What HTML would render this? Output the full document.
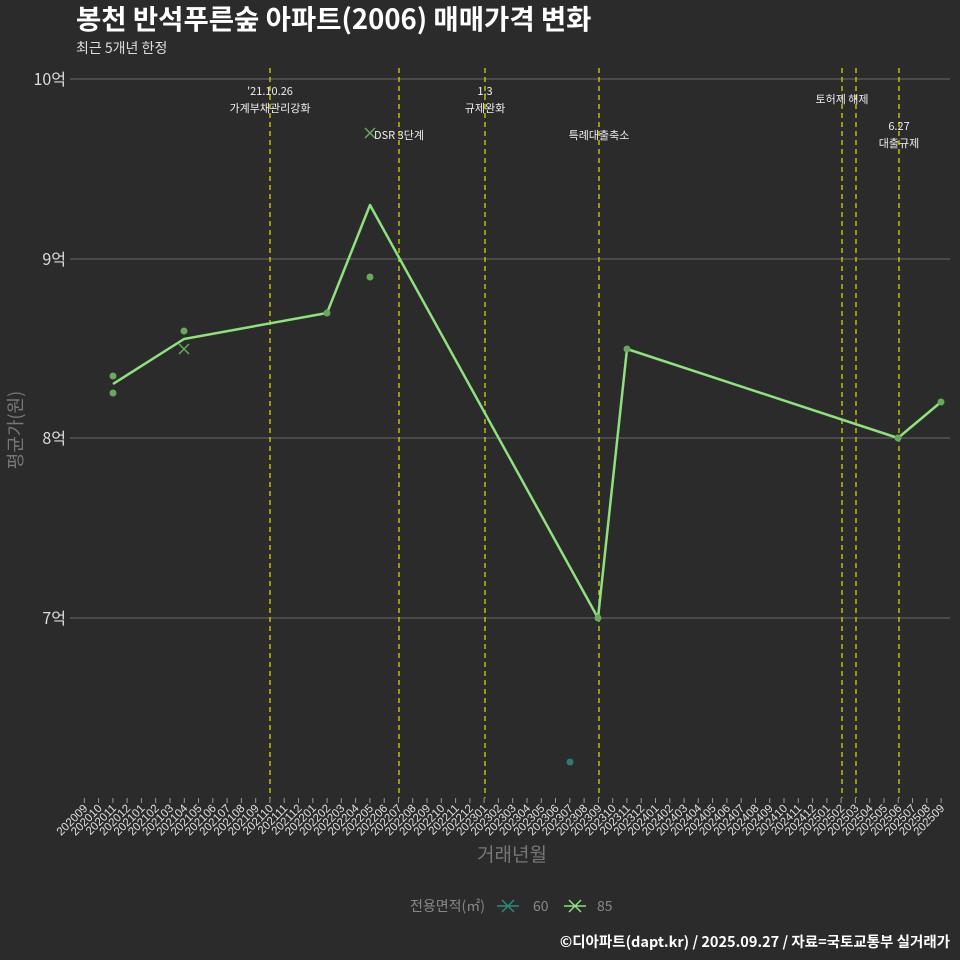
<!DOCTYPE html>
<html><head><meta charset="utf-8"><style>
html,body{margin:0;padding:0;background:#2b2b2b;}
svg{display:block;font-family:"Liberation Sans","Noto Sans CJK KR",sans-serif;}
</style></head><body>
<svg width="960" height="960" viewBox="0 0 960 960" xmlns="http://www.w3.org/2000/svg">
<rect width="960" height="960" fill="#2b2b2b"/>
<text x="76" y="29" font-size="27.5" font-weight="bold" fill="#ffffff" font-family="'Noto Sans CJK KR',sans-serif">봉천 반석푸른숲 아파트(2006) 매매가격 변화</text>
<text x="76" y="53" font-size="14" fill="#dddddd" font-family="'Noto Sans CJK KR',sans-serif">최근 5개년 한정</text>
<g stroke="#6a6a6a" stroke-width="1">
<line x1="70" y1="79" x2="950" y2="79"/><line x1="70" y1="259" x2="950" y2="259"/>
<line x1="70" y1="438" x2="950" y2="438"/><line x1="70" y1="618" x2="950" y2="618"/>
</g>
<g font-size="16" fill="#dddddd" text-anchor="end" font-family="'Noto Sans CJK KR',sans-serif">
<text x="66" y="85">10억</text><text x="66" y="265">9억</text><text x="66" y="444">8억</text><text x="66" y="624">7억</text>
</g>
<text transform="translate(22,430) rotate(-90)" font-size="18" fill="#777" text-anchor="middle" font-family="'Noto Sans CJK KR',sans-serif">평균가(원)</text>
<g stroke="#d4d400" stroke-width="1.3" stroke-dasharray="5,4">
<line x1="270" y1="68" x2="270" y2="798"/><line x1="399" y1="68" x2="399" y2="798"/>
<line x1="485" y1="68" x2="485" y2="798"/><line x1="599" y1="68" x2="599" y2="798"/>
<line x1="842" y1="68" x2="842" y2="798"/><line x1="856" y1="68" x2="856" y2="798"/>
<line x1="899" y1="68" x2="899" y2="798"/>
</g>
<g font-size="11" fill="#eeeeee" text-anchor="middle" font-family="'Noto Sans CJK KR',sans-serif">
<text x="270" y="95">'21.10.26</text><text x="270" y="112">가계부채관리강화</text>
<text x="399" y="139">DSR 3단계</text>
<text x="485" y="95">1.3</text><text x="485" y="112">규제완화</text>
<text x="599" y="139">특례대출축소</text>
<text x="842" y="103">토허제 해제</text>
<text x="899" y="130">6.27</text><text x="899" y="147">대출규제</text>
</g>
<polyline fill="none" stroke="#90e080" stroke-width="2.5" stroke-linejoin="round" points="113,384 184,339 327,313 370,205 598,618 627,349 898,438 941,402"/>
<g fill="#6aa860">
<circle cx="113" cy="376" r="3.5"/><circle cx="113" cy="393" r="3.5"/><circle cx="184" cy="331" r="3.5"/>
<circle cx="370" cy="277" r="3.5"/><circle cx="327" cy="313" r="3.5"/><circle cx="598" cy="618" r="3.5"/>
<circle cx="627" cy="349" r="3.5"/><circle cx="898" cy="438" r="3.5"/><circle cx="941" cy="402" r="3.5"/>
</g>
<circle cx="570" cy="762" r="3.5" fill="#2e7a70"/>
<g stroke="#6aa860" stroke-width="1.5">
<path d="M179,344 L189,354 M189,344 L179,354"/>
<path d="M365,128 L375,138 M375,128 L365,138"/>
</g>
<g stroke="#999" stroke-width="1">
<path d="M84.3,798v5M98.6,798v5M112.9,798v5M127.1,798v5M141.4,798v5M155.7,798v5M170,798v5M184.3,798v5M198.5,798v5M212.8,798v5M227.1,798v5M241.4,798v5M255.7,798v5M269.9,798v5M284.2,798v5M298.5,798v5M312.8,798v5M327.1,798v5M341.3,798v5M355.6,798v5M369.9,798v5M384.2,798v5M398.5,798v5M412.7,798v5M427,798v5M441.3,798v5M455.6,798v5M469.9,798v5M484.1,798v5M498.4,798v5M512.7,798v5M527,798v5M541.3,798v5M555.5,798v5M569.8,798v5M584.1,798v5M598.4,798v5M612.7,798v5M626.9,798v5M641.2,798v5M655.5,798v5M669.8,798v5M684.1,798v5M698.3,798v5M712.6,798v5M726.9,798v5M741.2,798v5M755.5,798v5M769.7,798v5M784,798v5M798.3,798v5M812.6,798v5M826.9,798v5M841.1,798v5M855.4,798v5M869.7,798v5M884,798v5M898.3,798v5M912.5,798v5M926.8,798v5M941.1,798v5"/>
</g>
<g font-size="11.5" fill="#e0e0e0" text-anchor="end">
<text transform="translate(88.3,809) rotate(-45)">202009</text>
<text transform="translate(102.6,809) rotate(-45)">202010</text>
<text transform="translate(116.9,809) rotate(-45)">202011</text>
<text transform="translate(131.1,809) rotate(-45)">202012</text>
<text transform="translate(145.4,809) rotate(-45)">202101</text>
<text transform="translate(159.7,809) rotate(-45)">202102</text>
<text transform="translate(174,809) rotate(-45)">202103</text>
<text transform="translate(188.3,809) rotate(-45)">202104</text>
<text transform="translate(202.5,809) rotate(-45)">202105</text>
<text transform="translate(216.8,809) rotate(-45)">202106</text>
<text transform="translate(231.1,809) rotate(-45)">202107</text>
<text transform="translate(245.4,809) rotate(-45)">202108</text>
<text transform="translate(259.7,809) rotate(-45)">202109</text>
<text transform="translate(273.9,809) rotate(-45)">202110</text>
<text transform="translate(288.2,809) rotate(-45)">202111</text>
<text transform="translate(302.5,809) rotate(-45)">202112</text>
<text transform="translate(316.8,809) rotate(-45)">202201</text>
<text transform="translate(331.1,809) rotate(-45)">202202</text>
<text transform="translate(345.3,809) rotate(-45)">202203</text>
<text transform="translate(359.6,809) rotate(-45)">202204</text>
<text transform="translate(373.9,809) rotate(-45)">202205</text>
<text transform="translate(388.2,809) rotate(-45)">202206</text>
<text transform="translate(402.5,809) rotate(-45)">202207</text>
<text transform="translate(416.7,809) rotate(-45)">202208</text>
<text transform="translate(431,809) rotate(-45)">202209</text>
<text transform="translate(445.3,809) rotate(-45)">202210</text>
<text transform="translate(459.6,809) rotate(-45)">202211</text>
<text transform="translate(473.9,809) rotate(-45)">202212</text>
<text transform="translate(488.1,809) rotate(-45)">202301</text>
<text transform="translate(502.4,809) rotate(-45)">202302</text>
<text transform="translate(516.7,809) rotate(-45)">202303</text>
<text transform="translate(531,809) rotate(-45)">202304</text>
<text transform="translate(545.3,809) rotate(-45)">202305</text>
<text transform="translate(559.5,809) rotate(-45)">202306</text>
<text transform="translate(573.8,809) rotate(-45)">202307</text>
<text transform="translate(588.1,809) rotate(-45)">202308</text>
<text transform="translate(602.4,809) rotate(-45)">202309</text>
<text transform="translate(616.7,809) rotate(-45)">202310</text>
<text transform="translate(630.9,809) rotate(-45)">202311</text>
<text transform="translate(645.2,809) rotate(-45)">202312</text>
<text transform="translate(659.5,809) rotate(-45)">202401</text>
<text transform="translate(673.8,809) rotate(-45)">202402</text>
<text transform="translate(688.1,809) rotate(-45)">202403</text>
<text transform="translate(702.3,809) rotate(-45)">202404</text>
<text transform="translate(716.6,809) rotate(-45)">202405</text>
<text transform="translate(730.9,809) rotate(-45)">202406</text>
<text transform="translate(745.2,809) rotate(-45)">202407</text>
<text transform="translate(759.5,809) rotate(-45)">202408</text>
<text transform="translate(773.7,809) rotate(-45)">202409</text>
<text transform="translate(788,809) rotate(-45)">202410</text>
<text transform="translate(802.3,809) rotate(-45)">202411</text>
<text transform="translate(816.6,809) rotate(-45)">202412</text>
<text transform="translate(830.9,809) rotate(-45)">202501</text>
<text transform="translate(845.1,809) rotate(-45)">202502</text>
<text transform="translate(859.4,809) rotate(-45)">202503</text>
<text transform="translate(873.7,809) rotate(-45)">202504</text>
<text transform="translate(888,809) rotate(-45)">202505</text>
<text transform="translate(902.3,809) rotate(-45)">202506</text>
<text transform="translate(916.5,809) rotate(-45)">202507</text>
<text transform="translate(930.8,809) rotate(-45)">202508</text>
<text transform="translate(945.1,809) rotate(-45)">202509</text>
</g>
<text x="512" y="861" font-size="19" fill="#777" text-anchor="middle" font-family="'Noto Sans CJK KR',sans-serif">거래년월</text>
<g font-family="'Noto Sans CJK KR',sans-serif" font-size="14" fill="#888">
<text x="410" y="911">전용면적(㎡)</text>
<path d="M497,906h22M502,900l12,12M514,900l-12,12" stroke="#2e8a80" stroke-width="1.5"/>
<text x="533" y="911">60</text>
<path d="M564,906h22M569,900l12,12M581,900l-12,12" stroke="#90e080" stroke-width="1.5"/>
<text x="597" y="911">85</text>
</g>
<text x="950" y="947" font-size="14.5" font-weight="bold" fill="#ffffff" text-anchor="end" font-family="'Noto Sans CJK KR',sans-serif">©디아파트(dapt.kr) / 2025.09.27 / 자료=국토교통부 실거래가</text>
</svg>
</body></html>
